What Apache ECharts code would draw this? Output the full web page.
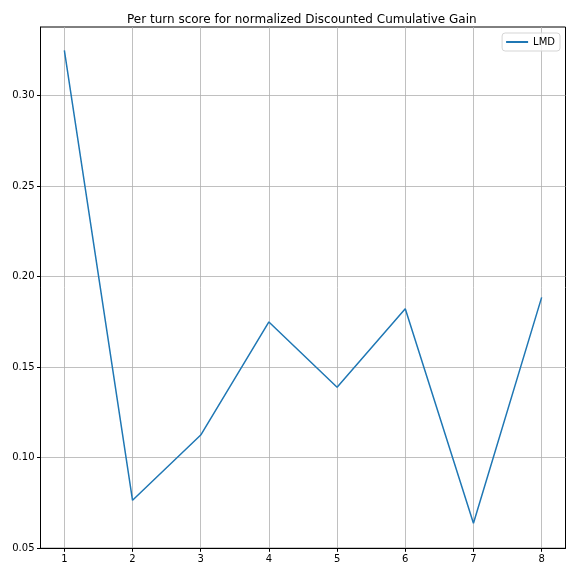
<!DOCTYPE html>
<html>
<head>
<meta charset="utf-8">
<script src="https://cdn.jsdelivr.net/npm/echarts@6/dist/echarts.min.js"></script>
<style>
  html, body { margin: 0; padding: 0; background: #fff; }
  #chart { width: 576px; height: 576px; }
</style>
</head>
<body>
<div id="chart"></div>
<script>
const turns = [1, 2, 3, 4, 5, 6, 7, 8]
const lmdScores = [0.3248, 0.0765, 0.1125, 0.1749, 0.1389, 0.1822, 0.0638, 0.1885]
const yTicks = [0.05, 0.10, 0.15, 0.20, 0.25, 0.30]

const chart = echarts.init(document.getElementById('chart'))
const font = 'DejaVu Sans'

chart.setOption({
  animation: false,
  title: {
    text: 'Per turn score for normalized Discounted Cumulative Gain',
    left: 122,
    top: 9,
    textStyle: { fontFamily: font, fontSize: 12, fontWeight: 'normal', color: '#000' },
  },
  legend: {
    right: 16,
    top: 33,
    itemWidth: 22,
    itemHeight: 2,
    itemGap: 4,
    padding: [4, 5, 4, 4],
    borderColor: '#d5d5d5',
    borderWidth: 1,
    borderRadius: 3,
    backgroundColor: 'rgba(255,255,255,0.8)',
    icon: 'rect',
    textStyle: { fontFamily: font, fontSize: 10, color: '#000' },
    data: ['LMD'],
  },
  grid: {
    left: 40.5, right: 10.5, top: 27, bottom: 27.7,
    show: true, borderColor: '#000', borderWidth: 1,
  },
  xAxis: {
    type: 'value',
    min: 0.65,
    max: 8.35,
    axisLine: { show: true, lineStyle: { color: '#000', width: 1 } },
    axisTick: { show: true, length: 3.5, lineStyle: { color: '#000' }, customValues: turns },
    axisLabel: { customValues: turns, color: '#000', fontFamily: font, fontSize: 10, margin: 6 },
    splitLine: { show: true, lineStyle: { color: '#b0b0b0', width: 0.8 } },
  },
  yAxis: {
    type: 'value',
    min: 0.05,
    max: 0.3377,
    interval: 0.05,
    axisLine: { show: true, lineStyle: { color: '#000', width: 1 } },
    axisTick: { show: true, length: 3.5, lineStyle: { color: '#000' }, customValues: yTicks },
    axisLabel: {
      customValues: yTicks,
      color: '#000', fontFamily: font, fontSize: 10, margin: 6,
      formatter: v => v.toFixed(2),
    },
    splitLine: { show: true, lineStyle: { color: '#b0b0b0', width: 0.8 } },
  },
  series: [
    {
      name: 'LMD',
      type: 'line',
      data: turns.map((t, i) => [t, lmdScores[i]]),
      symbol: 'none',
      lineStyle: { color: '#1f77b4', width: 1.5 },
      itemStyle: { color: '#1f77b4' },
    },
  ],
})
</script>
</body>
</html>
